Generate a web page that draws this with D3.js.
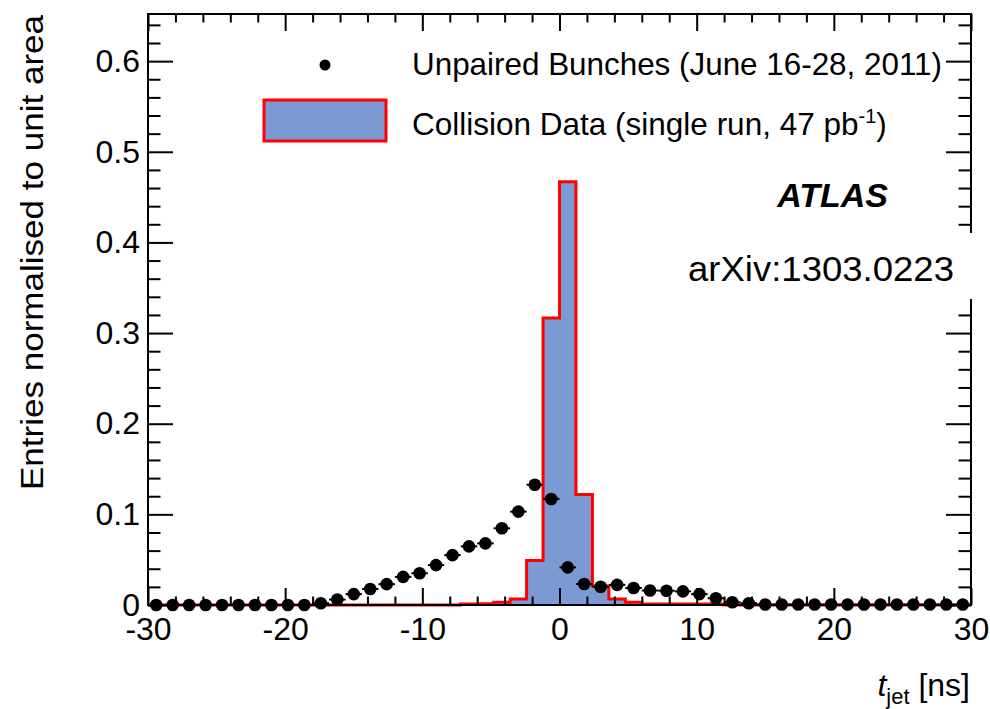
<!DOCTYPE html>
<html lang="en">
<head>
<meta charset="UTF-8">
<title>t_jet distribution</title>
<script src="https://d3js.org/d3.v7.min.js"></script>
<style>
    body { margin: 0; background: #fff; }
    svg { display: block; font-family: "Liberation Sans", Arial, sans-serif; }
    .axis text { font-size: 32px; fill: #000; }
    .axis line { stroke: #000; stroke-width: 2; }
</style>
</head>
<body>
<div id="chart"></div>
<script>
// bins: 50 bins of 1.2 ns from -30 to 30
const binEdges = d3.range(51).map(i => -30 + 1.2 * i);
const binCenters = d3.range(50).map(i => -29.4 + 1.2 * i);

// Collision data (single run), normalised
const collisionValues = [
    0, 0, 0, 0, 0, 0, 0, 0, 0, 0,
    0, 0, 0, 0, 0, 0, 0, 0, 0, 0.001,
    0.0015, 0.003, 0.0066, 0.049, 0.3165, 0.467, 0.122, 0.021, 0.0066, 0.003,
    0.0012, 0.0012, 0.0012, 0.0012, 0.001, 0, 0, 0, 0, 0,
    0, 0, 0, 0, 0, 0, 0, 0, 0, 0
];

// Unpaired bunches, normalised
const unpairedValues = [
    0, 0, 0, 0, 0, 0, 0, 0, 0, 0,
    0.002, 0.006, 0.012, 0.0176, 0.023, 0.031, 0.035, 0.044, 0.055, 0.0647,
    0.068, 0.0846, 0.103, 0.1327, 0.117, 0.0415, 0.0232, 0.0202, 0.0222, 0.0188,
    0.016, 0.0158, 0.015, 0.012, 0.0074, 0.003, 0.002, 0.0005, 0.0005, 0.0005,
    0.0005, 0.0005, 0.0005, 0.0005, 0.0005, 0.0005, 0.0005, 0.0005, 0.0005, 0.0005
];

const xMajor = [-30, -20, -10, 0, 10, 20, 30];
const xMinor = d3.range(-28, 30, 2).filter(v => v % 10 !== 0);
const yMajor = [0, 0.1, 0.2, 0.3, 0.4, 0.5, 0.6];
const yMinor = d3.range(1, 33).map(i => i * 0.02).filter(v => Math.abs(v * 10 - Math.round(v * 10)) > 1e-6);

const legendLabels = ["Unpaired Bunches (June 16-28, 2011)", "Collision Data (single run, 47 pb"];

const width = 990, height = 709;
const mLeft = 148, mRight = 971, mTop = 14, mBottom = 605;
const blue = "#7b9ad3", red = "#ff0000";

const svg = d3.select("#chart").append("svg")
    .attr("width", width)
    .attr("height", height);

const x = d3.scaleLinear().domain([-30, 30]).range([mLeft, mRight]);
const y = d3.scaleLinear().domain([0, 0.652]).range([mBottom, mTop]);

// histogram (step)
const stepPts = binEdges.map((e, i) => [e, i < 50 ? collisionValues[i] : collisionValues[49]]);
const area = d3.area()
    .curve(d3.curveStepAfter)
    .x(d => x(d[0]))
    .y0(y(0))
    .y1(d => y(d[1]));
svg.append("path")
    .datum(stepPts)
    .attr("d", area)
    .attr("fill", blue);

const outline = [[-30, 0]].concat(stepPts, [[30, 0]]);
svg.append("path")
    .datum(outline)
    .attr("d", d3.line().curve(d3.curveStepAfter).x(d => x(d[0])).y(d => y(d[1])))
    .attr("fill", "none")
    .attr("stroke", red)
    .attr("stroke-width", 3);

// axes, ticks pointing inward on all four sides
function addAxis(axis, tx, ty) {
    svg.append("g")
        .attr("class", "axis")
        .attr("transform", `translate(${tx},${ty})`)
        .call(axis)
        .call(g => g.select(".domain").remove());
}
const yFmt = d => d === 0 ? "0" : d3.format(".1f")(d);

addAxis(d3.axisBottom(x).tickValues(xMajor).tickSize(-17).tickSizeOuter(0).tickPadding(12).tickFormat(d => String(d)), 0, mBottom);
addAxis(d3.axisBottom(x).tickValues(xMinor).tickSize(-8.5).tickSizeOuter(0).tickFormat(""), 0, mBottom);
addAxis(d3.axisTop(x).tickValues(xMajor).tickSize(-17).tickSizeOuter(0).tickFormat(""), 0, mTop);
addAxis(d3.axisTop(x).tickValues(xMinor).tickSize(-8.5).tickSizeOuter(0).tickFormat(""), 0, mTop);
addAxis(d3.axisLeft(y).tickValues(yMajor).tickSize(-25).tickSizeOuter(0).tickPadding(8).tickFormat(yFmt), mLeft, 0);
addAxis(d3.axisLeft(y).tickValues(yMinor).tickSize(-12.5).tickSizeOuter(0).tickFormat(""), mLeft, 0);
addAxis(d3.axisRight(y).tickValues(yMajor).tickSize(-25).tickSizeOuter(0).tickFormat(""), mRight, 0);
addAxis(d3.axisRight(y).tickValues(yMinor).tickSize(-12.5).tickSizeOuter(0).tickFormat(""), mRight, 0);

svg.append("rect")
    .attr("x", mLeft).attr("y", mTop)
    .attr("width", mRight - mLeft).attr("height", mBottom - mTop)
    .attr("fill", "none")
    .attr("stroke", "#000")
    .attr("stroke-width", 2);

// unpaired bunches points with x error bars
const pts = svg.append("g");
pts.selectAll("line")
    .data(unpairedValues)
    .join("line")
    .attr("x1", (d, i) => x(binEdges[i]))
    .attr("x2", (d, i) => x(binEdges[i + 1]))
    .attr("y1", d => y(d))
    .attr("y2", d => y(d))
    .attr("stroke", "#000")
    .attr("stroke-width", 2);
pts.selectAll("circle")
    .data(unpairedValues)
    .join("circle")
    .attr("cx", (d, i) => x(binCenters[i]))
    .attr("cy", d => y(d))
    .attr("r", 6.3)
    .attr("fill", "#000");

// legend
svg.append("circle").attr("cx", 325).attr("cy", 65).attr("r", 5.5).attr("fill", "#000");
svg.append("text")
    .attr("x", 412).attr("y", 75)
    .attr("font-size", 31.5)
    .attr("textLength", 530)
    .attr("lengthAdjust", "spacingAndGlyphs")
    .text(legendLabels[0]);
svg.append("rect")
    .attr("x", 264).attr("y", 100).attr("width", 122).attr("height", 41)
    .attr("fill", blue).attr("stroke", red).attr("stroke-width", 3);
const leg2 = svg.append("text")
    .attr("x", 412).attr("y", 135)
    .attr("font-size", 31.5);
leg2.append("tspan").text(legendLabels[1]);
leg2.append("tspan").attr("dy", -12).attr("font-size", 20).text("-1");
leg2.append("tspan").attr("dy", 12).text(")");

// ATLAS label
svg.append("text")
    .attr("x", 888).attr("y", 207)
    .attr("text-anchor", "end")
    .attr("font-size", 34)
    .attr("font-weight", "bold")
    .attr("font-style", "italic")
    .text("ATLAS");

svg.append("rect")
    .attr("x", 672).attr("y", 233).attr("width", 303).attr("height", 66)
    .attr("fill", "#fff");
svg.append("text")
    .attr("x", 688).attr("y", 281)
    .attr("font-size", 35)
    .attr("textLength", 266)
    .attr("lengthAdjust", "spacingAndGlyphs")
    .text("arXiv:1303.0223");

// axis titles
const xt = svg.append("text")
    .attr("x", 970).attr("y", 696)
    .attr("text-anchor", "end")
    .attr("font-size", 32);
xt.append("tspan").attr("font-style", "italic").text("t");
xt.append("tspan").attr("dy", 8).attr("font-size", 22).text("jet");
xt.append("tspan").attr("dy", -8).text(" [ns]");

svg.append("text")
    .attr("transform", "translate(43,490) rotate(-90)")
    .attr("font-size", 32)
    .attr("textLength", 475)
    .attr("lengthAdjust", "spacingAndGlyphs")
    .text("Entries normalised to unit area");
</script>
</body>
</html>
